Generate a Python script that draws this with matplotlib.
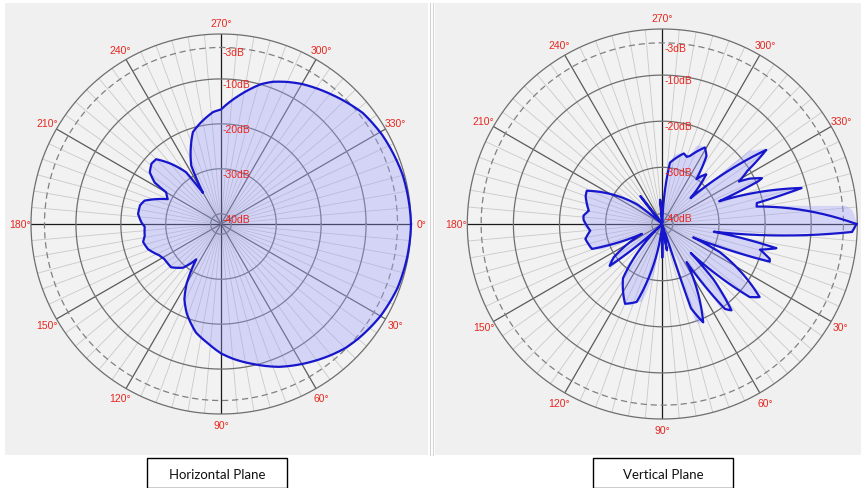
import numpy as np
import matplotlib
matplotlib.use("Agg")
import matplotlib.pyplot as plt
from matplotlib.patches import Rectangle, PathPatch
from matplotlib.path import Path
from matplotlib.lines import Line2D

# ---------------- data (angle in degrees, level in dB) ----------------
h_angle = [0, 10, 20, 30, 40, 45, 50, 60, 68, 77, 85, 90, 96, 103, 111, 116, 120, 125,
           127, 131, 139, 148, 153, 161, 167, 171, 178, 181, 187, 193, 197, 205, 210,
           212, 216, 221, 225, 230, 236, 238, 240, 243, 249, 253, 259, 266, 270, 278,
           286, 290, 295, 300, 311, 322, 331, 345, 360]
h_db = [0.0, -0.2, -0.5, -1.3, -2.5, -3.2, -4.2, -6.3, -8.0, -10.3, -12.2, -13.5, -15.5,
        -17.5, -21.0, -23.7, -27.0, -32.7, -31.5, -29.4, -27.6, -27.5, -26.9, -25.1,
        -24.5, -25.1, -25.3, -24.6, -23.7, -23.8, -24.5, -29.2, -28.2, -24.9, -22.7,
        -21.8, -21.9, -24.7, -28.4, -32.1, -34.3, -27.7, -23.6, -20.9, -19.2, -17.3,
        -16.8, -13.4, -9.9, -8.6, -7.4, -6.3, -4.3, -2.2, -1.3, -0.4, 0.0]

v_angle = [0, 1.5, 2.4, 2.9, 3.4, 4.4, 5.1, 7.1, 8.5, 10.0, 11.3, 11.4, 10.9, 12.0, 13.5, 14.7,
           16.5, 18.0, 19.3, 20.6, 21.3, 22.0, 23.5,
           26.1, 29.0, 32.0, 35.4, 35.7, 36.9, 38.5, 39.9, 41.0, 41.8, 44.0,
           45.5, 47.2, 49.2, 51.3, 53.2, 53.6, 55.1, 57.5,
           60.0, 62.2, 66.0, 67.4, 70.2, 71.3, 71.2, 70.9, 69.5, 67.3, 72.0,
           78.5, 80.0, 81.5, 88.5, 90.0, 91.5,
           96.0, 99.2, 102.9, 104.8, 108.2, 110.6, 115.0, 119.6, 122.3, 126.0, 127.5, 129.0, 133.0,
           137.0, 139.3, 139.6, 141.5, 144.0, 145.5, 148.0, 150.5,
           154.2, 156.7, 157.0, 160.5, 165.0, 169.0, 172.0, 174.7, 177.0, 178.8, 183.0, 186.0,
           188.0, 190.2, 193.0, 195.7, 200.0, 203.8, 206.0, 209.5, 209.4, 214.4, 218.0, 220.0,
           229.5, 231.8, 233.5, 263.5, 265.0, 266.5, 271.5, 273.0, 274.5,
           276.0, 277.1, 280.3, 284.0, 287.0, 290.0, 292.0, 293.7, 296.0, 299.1, 301.0, 303.0,
           304.0, 307.3, 309.0, 311.5, 314.5, 317.5,
           319.5, 319.3, 320.1, 321.8, 322.5, 323.5, 324.5, 325.7, 326.1, 328.0, 331.0,
           332.5, 334.0, 335.3, 336.0, 337.0, 338.2,
           340.0, 342.0, 343.8, 344.7, 345.5, 346.4, 346.6, 346.3, 346.1, 347.5,
           349.5, 350.0, 351.2, 353.1, 353.9, 354.4, 355.8, 358.2, 360.0]
v_db = [-0.2, -0.4, -1.1, -3.2, -9.8, -13.9, -20.7, -28.4, -31.0, -24.0, -19.0, -17.5, -16.7,
        -17.0, -19.5, -20.4, -19.0, -17.8, -17.6, -19.7, -24.0, -30.0, -35.0,
        -28.4, -25.0, -22.5, -19.9, -16.7, -15.9, -16.2, -17.6, -21.0, -26.0, -33.5,
        -33.5, -26.1, -19.9, -18.3, -18.5, -19.4, -24.3, -32.5,
        -29.0, -26.4, -21.4, -19.2, -19.3, -20.2, -23.0, -25.1, -29.0, -33.4, -40.0,
        -42.0, -36.5, -42.0, -42.0, -35.0, -42.0,
        -42.0, -32.5, -27.2, -24.8, -24.5, -23.4, -23.2, -24.5, -26.5, -27.8, -32.0, -36.0, -42.0,
        -42.0, -32.0, -28.4, -27.7, -27.9, -29.5, -34.0, -37.2,
        -37.4, -29.6, -28.1, -26.1, -25.5, -25.3, -26.0, -26.6, -25.5, -25.2, -25.2, -25.1,
        -25.8, -26.1, -25.3, -25.0, -24.6, -24.4, -26.0, -27.3, -30.6, -33.4, -35.5, -42.0,
        -42.0, -34.6, -42.0, -42.0, -37.0, -42.0, -42.0, -32.0, -42.0,
        -35.0, -28.9, -27.0, -26.5, -26.3, -26.8, -26.4, -23.8, -23.3, -23.3, -23.8, -24.7,
        -27.1, -30.1, -29.0, -27.9, -29.7, -34.0,
        -28.0, -23.1, -17.5, -16.5, -15.6, -14.8, -14.6, -15.4, -17.7, -20.5, -23.3,
        -21.0, -18.7, -18.5, -19.5, -25.0, -29.0,
        -23.5, -19.5, -14.5, -11.8, -11.1, -12.2, -13.1, -16.0, -18.3, -21.3,
        -21.5, -20.3, -16.7, -9.8, -5.4, -2.2, -1.0, -0.4, -0.2]

angle_ticks = list(range(0, 360, 30))
angle_labels = [f"{a}\u00b0" for a in angle_ticks]
ring_levels = [-40, -30, -20, -10, 0]
label_levels = [-3, -10, -20, -30, -40]
label_texts = ["-3dB", "-10dB", "-20dB", "-30dB", "-40dB"]
dashed_level = -3
panel_titles = ["Horizontal Plane", "Vertical Plane"]

W, H = 862, 489
RMIN = -42.3
RED = "#e8261e"
BLUE = "#1616cc"
STEPS = 12

fig = plt.figure(figsize=(W / 100, H / 100), dpi=100)
fig.patch.set_facecolor("white")


def px_rect(x0, y0, x1, y1, **kw):
    return Rectangle((x0 / W, 1 - y1 / H), (x1 - x0) / W, (y1 - y0) / H,
                     transform=fig.transFigure, **kw)


# panel backgrounds and separator
fig.add_artist(px_rect(5, 4, 428, 456, facecolor="#f0f0f0", edgecolor="none", zorder=0))
fig.add_artist(px_rect(435, 4, 862, 456, facecolor="#f0f0f0", edgecolor="none", zorder=0))
for xs in (430, 433):
    fig.add_artist(Line2D([xs / W, xs / W], [1 - 456 / H, 1 - 4 / H], transform=fig.transFigure,
                          color="#d4d4d4", lw=0.8))


def polar_panel(cx, cy, rad, ang, db, skip_labels=()):
    ax = fig.add_axes([(cx - rad) / W, 1 - (cy + rad) / H, 2 * rad / W, 2 * rad / H],
                      projection="polar")
    ax.set_theta_zero_location("E")
    ax.set_theta_direction(-1)
    ax.set_ylim(RMIN, 0)
    ax.set_facecolor("#f2f2f2")
    ax.grid(False)
    ax.set_xticks([])
    ax.set_yticks([])
    ax.spines["polar"].set_visible(False)
    full = np.linspace(0, 2 * np.pi, 721)
    for a in range(0, 360, 5):
        if a % 30:
            ax.plot([np.radians(a)] * 2, [RMIN, 0], color="#c9c9c9", lw=0.6, zorder=1)
    for a in range(0, 360, 30):
        col = "#1a1a1a" if a % 90 == 0 else "#5a5a5a"
        ax.plot([np.radians(a)] * 2, [RMIN, 0], color=col, lw=0.9, zorder=2)
    for r in ring_levels:
        ax.plot(full, np.full_like(full, r), color="#6e6e6e", lw=0.9, zorder=2, clip_on=False)
    ax.plot(full, np.full_like(full, dashed_level), color="#808080", lw=0.9,
            ls=(0, (5, 3)), zorder=2)
    th = np.radians(ang)
    verts = list(zip(th, db)) + [(th[-1], RMIN), (th[0], RMIN), (th[0], db[0])]
    codes = [Path.MOVETO] + [Path.LINETO] * (len(verts) - 2) + [Path.CLOSEPOLY]
    patch = PathPatch(Path(verts, codes, _interpolation_steps=STEPS),
                      facecolor=(0.62, 0.62, 1.0), alpha=0.35, lw=0, zorder=3)
    ax.add_patch(patch)
    line, = ax.plot(th, db, color=BLUE, lw=1.6, zorder=4, clip_on=False,
                    solid_joinstyle="round")
    line.get_path()._interpolation_steps = STEPS
    for a, lab in zip(angle_ticks, angle_labels):
        if a in skip_labels:
            continue
        ax.text(np.radians(a), 2.45, lab, ha="center", va="center", color=RED,
                fontsize=7.5, family="Liberation Sans", clip_on=False, zorder=5)
    for lv, lab in zip(label_levels, label_texts):
        ax.annotate(lab, (np.radians(270), lv), xytext=(2, -5), textcoords="offset pixels",
                    ha="left", va="center", color=RED, fontsize=7.5,
                    family="Liberation Sans", zorder=5, annotation_clip=False)
    return ax


polar_panel(221, 225, 190, h_angle, h_db)
polar_panel(662.3, 225, 195, v_angle, v_db, skip_labels=(0,))

# caption boxes
for (x0, x1), title in zip([(147, 287), (593, 733)], panel_titles):
    fig.add_artist(px_rect(x0, 458.5, x1, 488.5, facecolor="white", edgecolor="black", lw=1.0))
    fig.text((x0 + x1) / 2 / W, 1 - 475 / H, title, ha="center", va="center",
             fontsize=9.5, family="Lato", color="#111111")

fig.savefig("out.png", dpi=100, facecolor="white")
